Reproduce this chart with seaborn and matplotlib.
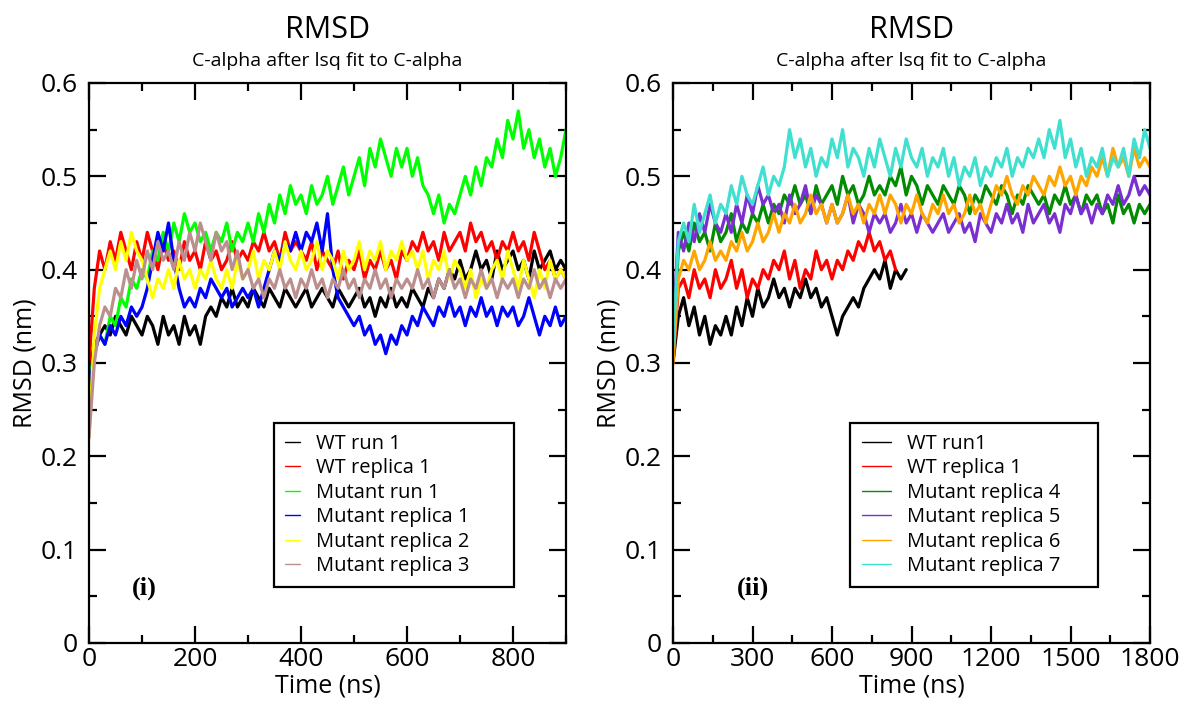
import numpy as np
import pandas as pd
import matplotlib
matplotlib.use("Agg")
import matplotlib.pyplot as plt
import seaborn as sns
from matplotlib.ticker import MultipleLocator, FixedLocator, FixedFormatter

# ---------------- data ----------------
time_i = np.arange(0, 901, 10)          # panel (i) sampling, ns
time_ii = np.arange(0, 1801, 20)        # panel (ii) sampling, ns

labels_i = ["WT run 1", "WT replica 1", "Mutant run 1",
            "Mutant replica 1", "Mutant replica 2", "Mutant replica 3"]
colors_i = ["#000000", "#ff0000", "#00ff00", "#0000ff", "#ffff00", "#bc8f8f"]

wt_run1_i = [0.29, 0.32, 0.33, 0.34, 0.33, 0.35, 0.34, 0.33, 0.35, 0.34,
             0.33, 0.35, 0.34, 0.32, 0.35, 0.33, 0.34, 0.32, 0.35, 0.33,
             0.34, 0.32, 0.35, 0.36, 0.35, 0.37, 0.36, 0.38, 0.36, 0.37,
             0.36, 0.38, 0.37, 0.36, 0.38, 0.37, 0.36, 0.38, 0.37, 0.36,
             0.37, 0.38, 0.36, 0.37, 0.38, 0.37, 0.36, 0.38, 0.37, 0.36,
             0.37, 0.38, 0.36, 0.37, 0.35, 0.37, 0.36, 0.38, 0.36, 0.37,
             0.36, 0.38, 0.37, 0.36, 0.38, 0.37, 0.39, 0.38, 0.40, 0.39,
             0.41, 0.39, 0.40, 0.42, 0.40, 0.41, 0.39, 0.42, 0.40, 0.41,
             0.42, 0.40, 0.41, 0.39, 0.42, 0.40, 0.41, 0.42, 0.40, 0.41,
             0.40]
wt_rep1_i = [0.30, 0.38, 0.42, 0.40, 0.43, 0.41, 0.44, 0.42, 0.40, 0.43,
             0.41, 0.44, 0.42, 0.40, 0.43, 0.41, 0.42, 0.40, 0.43, 0.41,
             0.42, 0.40, 0.43, 0.41, 0.42, 0.40, 0.41, 0.43, 0.41, 0.42,
             0.41, 0.43, 0.42, 0.44, 0.42, 0.43, 0.41, 0.44, 0.42, 0.43,
             0.42, 0.41, 0.43, 0.40, 0.42, 0.41, 0.40, 0.42, 0.39, 0.41,
             0.40, 0.42, 0.39, 0.41, 0.40, 0.42, 0.40, 0.41, 0.39, 0.42,
             0.41, 0.43, 0.42, 0.44, 0.42, 0.43, 0.41, 0.44, 0.42, 0.43,
             0.44, 0.42, 0.45, 0.43, 0.44, 0.42, 0.43, 0.41, 0.43, 0.42,
             0.44, 0.42, 0.43, 0.41, 0.44, 0.42, 0.40, 0.41, 0.39, 0.40,
             0.39]
mut_run1_i = [0.28, 0.31, 0.33, 0.32, 0.35, 0.34, 0.37, 0.36, 0.39, 0.38,
              0.40, 0.39, 0.42, 0.41, 0.44, 0.42, 0.45, 0.43, 0.46, 0.44,
              0.45, 0.43, 0.44, 0.42, 0.44, 0.43, 0.45, 0.42, 0.44, 0.43,
              0.45, 0.43, 0.46, 0.44, 0.47, 0.45, 0.48, 0.46, 0.49, 0.47,
              0.48, 0.46, 0.49, 0.47, 0.48, 0.50, 0.47, 0.49, 0.51, 0.48,
              0.50, 0.52, 0.49, 0.53, 0.51, 0.54, 0.52, 0.50, 0.53, 0.51,
              0.53, 0.50, 0.52, 0.49, 0.48, 0.46, 0.48, 0.45, 0.47, 0.46,
              0.48, 0.50, 0.48, 0.51, 0.49, 0.52, 0.51, 0.54, 0.52, 0.56,
              0.54, 0.57, 0.53, 0.55, 0.52, 0.54, 0.51, 0.53, 0.50, 0.52,
              0.55]
mut_rep1_i = [0.27, 0.31, 0.33, 0.32, 0.34, 0.33, 0.35, 0.34, 0.36, 0.35,
              0.36, 0.38, 0.41, 0.44, 0.42, 0.45, 0.41, 0.38, 0.36, 0.37,
              0.36, 0.38, 0.37, 0.39, 0.38, 0.37, 0.38, 0.36, 0.37, 0.38,
              0.37, 0.38, 0.36, 0.38, 0.40, 0.42, 0.41, 0.43, 0.42, 0.44,
              0.42, 0.44, 0.43, 0.45, 0.42, 0.46, 0.40, 0.37, 0.36, 0.35,
              0.34, 0.35, 0.33, 0.34, 0.32, 0.33, 0.31, 0.33, 0.32, 0.34,
              0.33, 0.35, 0.34, 0.36, 0.35, 0.34, 0.36, 0.35, 0.37, 0.35,
              0.36, 0.34, 0.36, 0.35, 0.37, 0.35, 0.36, 0.34, 0.36, 0.35,
              0.36, 0.34, 0.35, 0.37, 0.35, 0.33, 0.35, 0.34, 0.36, 0.34,
              0.35]
mut_rep2_i = [0.22, 0.33, 0.38, 0.40, 0.42, 0.40, 0.43, 0.41, 0.44, 0.42,
              0.41, 0.39, 0.37, 0.39, 0.38, 0.40, 0.38, 0.41, 0.39, 0.40,
              0.38, 0.40, 0.39, 0.41, 0.39, 0.38, 0.40, 0.38, 0.41, 0.39,
              0.40, 0.42, 0.39, 0.41, 0.40, 0.42, 0.40, 0.43, 0.41, 0.40,
              0.42, 0.40, 0.41, 0.43, 0.40, 0.42, 0.41, 0.39, 0.42, 0.40,
              0.41, 0.43, 0.40, 0.42, 0.41, 0.43, 0.40, 0.42, 0.41, 0.43,
              0.41, 0.42, 0.40, 0.42, 0.39, 0.41, 0.40, 0.42, 0.39, 0.41,
              0.40, 0.38, 0.40, 0.37, 0.39, 0.38, 0.40, 0.41, 0.39, 0.42,
              0.40, 0.38, 0.41, 0.39, 0.37, 0.40, 0.38, 0.41, 0.39, 0.40,
              0.39]
mut_rep3_i = [0.22, 0.30, 0.34, 0.36, 0.35, 0.38, 0.37, 0.40, 0.38, 0.41,
              0.39, 0.42, 0.40, 0.43, 0.41, 0.42, 0.40, 0.43, 0.41, 0.44,
              0.42, 0.45, 0.43, 0.41, 0.44, 0.42, 0.43, 0.40, 0.42, 0.39,
              0.40, 0.38, 0.39, 0.37, 0.39, 0.38, 0.40, 0.38, 0.39, 0.37,
              0.39, 0.38, 0.40, 0.38, 0.39, 0.37, 0.39, 0.38, 0.40, 0.38,
              0.39, 0.37, 0.39, 0.38, 0.40, 0.38, 0.39, 0.37, 0.39, 0.38,
              0.39, 0.38, 0.40, 0.38, 0.39, 0.37, 0.39, 0.38, 0.40, 0.38,
              0.39, 0.37, 0.39, 0.38, 0.40, 0.38, 0.39, 0.37, 0.39, 0.38,
              0.39, 0.37, 0.39, 0.38, 0.40, 0.38, 0.39, 0.37, 0.39, 0.38,
              0.39]

labels_ii = ["WT run1", "WT replica 1", "Mutant replica 4",
             "Mutant replica 5", "Mutant replica 6", "Mutant replica 7"]
colors_ii = ["#000000", "#ff0000", "#008b00", "#7b2fd0", "#ffa500", "#40e0d0"]

wt_run1_ii = [0.30, 0.35, 0.37, 0.34, 0.36, 0.33, 0.35, 0.32, 0.34, 0.33,
              0.35, 0.33, 0.36, 0.34, 0.37, 0.35, 0.38, 0.36, 0.37, 0.39,
              0.37, 0.38, 0.36, 0.38, 0.37, 0.39, 0.37, 0.38, 0.36, 0.37,
              0.35, 0.33, 0.35, 0.36, 0.37, 0.36, 0.38, 0.39, 0.40, 0.39,
              0.41, 0.38, 0.40, 0.39, 0.40]
wt_rep1_ii = [0.30, 0.38, 0.39, 0.37, 0.40, 0.38, 0.39, 0.37, 0.40, 0.38,
              0.39, 0.41, 0.38, 0.40, 0.37, 0.39, 0.38, 0.40, 0.39, 0.41,
              0.40, 0.42, 0.39, 0.41, 0.38, 0.40, 0.39, 0.42, 0.40, 0.41,
              0.39, 0.41, 0.40, 0.42, 0.41, 0.43, 0.42, 0.44, 0.42, 0.43,
              0.41, 0.42, 0.40]
mut_rep4_ii = [0.32, 0.42, 0.44, 0.42, 0.45, 0.43, 0.44, 0.42, 0.45, 0.43,
               0.44, 0.46, 0.43, 0.45, 0.44, 0.46, 0.45, 0.47, 0.45, 0.47,
               0.46, 0.48, 0.47, 0.49, 0.47, 0.48, 0.46, 0.49, 0.47, 0.48,
               0.49, 0.47, 0.50, 0.48, 0.49, 0.47, 0.48, 0.50, 0.48, 0.49,
               0.48, 0.50, 0.49, 0.51, 0.48, 0.50, 0.49, 0.47, 0.49, 0.48,
               0.47, 0.49, 0.48, 0.47, 0.49, 0.48, 0.46, 0.48, 0.47, 0.49,
               0.48, 0.47, 0.49, 0.48, 0.46, 0.48, 0.47, 0.49, 0.48, 0.47,
               0.48, 0.46, 0.48, 0.47, 0.49, 0.47, 0.48, 0.46, 0.48, 0.47,
               0.48, 0.46, 0.47, 0.45, 0.48, 0.46, 0.47, 0.45, 0.47, 0.46,
               0.47]
mut_rep5_ii = [0.33, 0.44, 0.42, 0.45, 0.43, 0.46, 0.44, 0.47, 0.45, 0.44,
               0.46, 0.44, 0.47, 0.45, 0.48, 0.46, 0.49, 0.47, 0.48, 0.46,
               0.47, 0.45, 0.48, 0.46, 0.47, 0.49, 0.46, 0.48, 0.47, 0.45,
               0.47, 0.45, 0.46, 0.48, 0.45, 0.47, 0.46, 0.44, 0.46, 0.45,
               0.46, 0.44, 0.45, 0.47, 0.45, 0.46, 0.44, 0.46, 0.45, 0.44,
               0.45, 0.46, 0.44, 0.45, 0.46, 0.44, 0.45, 0.43, 0.46, 0.45,
               0.44, 0.46, 0.45, 0.47, 0.45, 0.46, 0.44, 0.47, 0.45, 0.46,
               0.47, 0.45, 0.46, 0.44, 0.47, 0.46, 0.48, 0.46, 0.47, 0.45,
               0.47, 0.46, 0.48, 0.47, 0.49, 0.47, 0.48, 0.50, 0.48, 0.49,
               0.48]
mut_rep6_ii = [0.30, 0.39, 0.41, 0.40, 0.42, 0.40, 0.41, 0.43, 0.41, 0.42,
               0.41, 0.43, 0.42, 0.44, 0.42, 0.43, 0.45, 0.43, 0.44, 0.46,
               0.44, 0.46, 0.45, 0.47, 0.45, 0.46, 0.48, 0.46, 0.47, 0.45,
               0.47, 0.45, 0.46, 0.48, 0.46, 0.47, 0.45, 0.47, 0.46, 0.48,
               0.46, 0.48, 0.47, 0.45, 0.47, 0.46, 0.48, 0.46, 0.45, 0.47,
               0.46, 0.48, 0.46, 0.47, 0.45, 0.46, 0.48, 0.46, 0.47, 0.45,
               0.47, 0.49, 0.48, 0.50, 0.48, 0.47, 0.49, 0.48, 0.50, 0.49,
               0.48, 0.50, 0.49, 0.51, 0.49, 0.50, 0.48, 0.50, 0.49, 0.51,
               0.50, 0.52, 0.50, 0.53, 0.51, 0.52, 0.50, 0.53, 0.51, 0.52,
               0.51]
mut_rep7_ii = [0.32, 0.43, 0.45, 0.43, 0.47, 0.44, 0.46, 0.48, 0.45, 0.47,
               0.46, 0.49, 0.47, 0.50, 0.48, 0.47, 0.49, 0.51, 0.48, 0.50,
               0.49, 0.51, 0.55, 0.52, 0.54, 0.51, 0.53, 0.50, 0.52, 0.51,
               0.54, 0.52, 0.55, 0.51, 0.53, 0.52, 0.50, 0.53, 0.51, 0.54,
               0.52, 0.50, 0.53, 0.51, 0.54, 0.52, 0.51, 0.53, 0.50, 0.52,
               0.51, 0.53, 0.50, 0.52, 0.49, 0.51, 0.50, 0.52, 0.49, 0.51,
               0.50, 0.52, 0.51, 0.53, 0.50, 0.52, 0.51, 0.53, 0.52, 0.54,
               0.52, 0.55, 0.53, 0.56, 0.52, 0.54, 0.51, 0.53, 0.50, 0.52,
               0.51, 0.53, 0.50, 0.52, 0.51, 0.53, 0.50, 0.54, 0.52, 0.55,
               0.53]

yticks = [0, 0.1, 0.2, 0.3, 0.4, 0.5, 0.6]
ytick_labels = ["0", "0.1", "0.2", "0.3", "0.4", "0.5", "0.6"]
xticks_i = [0, 200, 400, 600, 800]
xticks_ii = [0, 300, 600, 900, 1200, 1500, 1800]

title = "RMSD"
subtitle = "C-alpha after lsq fit to C-alpha"

# ---------------- build tidy tables ----------------
def tidy(times_list, values_list, names):
    frames = []
    for t, v, n in zip(times_list, values_list, names):
        frames.append(pd.DataFrame({"Time": t[:len(v)], "RMSD": v, "series": n}))
    return pd.concat(frames, ignore_index=True)

df_i = tidy([time_i] * 6,
            [wt_run1_i, wt_rep1_i, mut_run1_i, mut_rep1_i, mut_rep2_i, mut_rep3_i],
            labels_i)
df_ii = tidy([time_ii] * 6,
             [wt_run1_ii, wt_rep1_ii, mut_rep4_ii, mut_rep5_ii, mut_rep6_ii, mut_rep7_ii],
             labels_ii)

# ---------------- figure ----------------
sns.set_theme(style="ticks")
plt.rcParams['font.family'] = ['Open Sans', 'DejaVu Sans']
plt.rcParams['text.color'] = 'black'
plt.rcParams['axes.labelcolor'] = 'black'

fig = plt.figure(figsize=(11.88, 7.04), dpi=100)
W, H = 1188, 704
ax1 = fig.add_axes([89 / W, 1 - 643 / H, 477 / W, 560 / H])
ax2 = fig.add_axes([673 / W, 1 - 643 / H, 477 / W, 560 / H])

panels = [
    (ax1, df_i, labels_i, colors_i, 900, xticks_i, 100, "(i)", 0.116,
     0.75, (0.387, 0.393, 0.503, 0.0)),
    (ax2, df_ii, labels_ii, colors_ii, 1800, xticks_ii, 150, "(ii)", 0.168,
     1.45, (0.372, 0.393, 0.519, 0.0)),
]

for ax, df, labs, cols, xmax, xt, xminor, tag, tagx, hlen, bbox in panels:
    sns.lineplot(data=df, x="Time", y="RMSD", hue="series", hue_order=labs,
                 palette=dict(zip(labs, cols)), estimator=None, sort=False,
                 linewidth=2.3, ax=ax, legend=True)
    ax.set_xlim(0, xmax)
    ax.set_ylim(0, 0.6)
    ax.xaxis.set_major_locator(FixedLocator(xt))
    ax.xaxis.set_minor_locator(MultipleLocator(xminor))
    ax.yaxis.set_major_locator(FixedLocator(yticks))
    ax.yaxis.set_major_formatter(FixedFormatter(ytick_labels))
    ax.yaxis.set_minor_locator(MultipleLocator(0.05))
    ax.tick_params(which="both", direction="in", top=True, right=True,
                   labelsize=19, width=1.6, colors="black")
    ax.tick_params(which="major", length=12)
    ax.tick_params(axis="x", which="major", pad=3)
    ax.tick_params(axis="y", which="major", pad=8)
    ax.tick_params(which="minor", length=6)
    for s in ax.spines.values():
        s.set_linewidth(1.6)
        s.set_color("black")
    ax.set_xlabel("Time (ns)", fontsize=18, labelpad=1, color="black")
    ax.set_ylabel("RMSD (nm)", fontsize=18, labelpad=2, color="black")

    handles, lab = ax.get_legend_handles_labels()
    leg = ax.legend(handles, lab, loc="upper left", bbox_to_anchor=bbox,
                    mode="expand", frameon=True, fancybox=False, framealpha=1,
                    edgecolor="black", fontsize=14.5, handlelength=hlen,
                    handletextpad=0.8, labelspacing=0.22, borderpad=0.55,
                    borderaxespad=0, labelcolor="black")
    leg.get_frame().set_linewidth(1.6)
    for h in leg.get_lines():
        h.set_linewidth(1.0)

    ax.text(tagx, 0.097, tag, transform=ax.transAxes, fontsize=19,
            fontweight="bold", family="Liberation Serif", ha="center", va="center")
    ax.text(0.5, 1.095, title, transform=ax.transAxes, fontsize=22,
            ha="center", va="center")
    ax.text(0.5, 1.04, subtitle, transform=ax.transAxes, fontsize=14,
            ha="center", va="center")

fig.savefig("out.png", dpi=100)
